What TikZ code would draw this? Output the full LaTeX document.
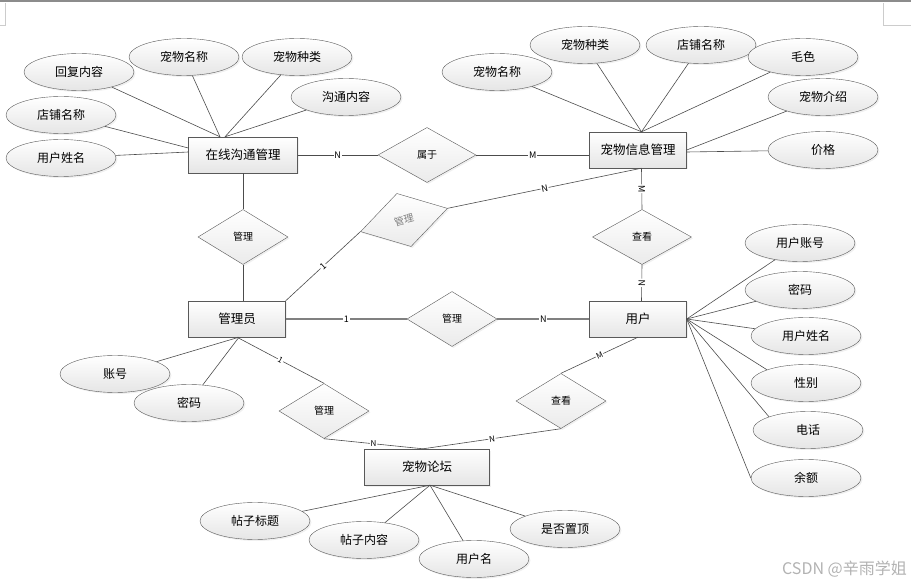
\documentclass[tikz,border=0pt]{standalone}
\usepackage{fontspec}
\setmainfont{Noto Sans CJK SC}
\usetikzlibrary{shapes.geometric,shadows,calc}

\begin{document}
\begin{tikzpicture}[
    x=1pt, y=-1pt,
    entity/.style={rectangle, draw=black!65, top color=white, bottom color=black!10, minimum height=36pt, inner sep=0pt, font=\fontsize{12.5}{14}\selectfont, drop shadow={opacity=0.12, shadow xshift=1.5pt, shadow yshift=-1.5pt}},
    attr/.style={ellipse, draw=black!65, top color=white, bottom color=black!10, minimum width=110pt, minimum height=37pt, inner sep=0pt, font=\fontsize{12}{14}\selectfont, drop shadow={opacity=0.12, shadow xshift=1.5pt, shadow yshift=-1.5pt}},
    rel/.style={diamond, draw=black!65, top color=white, bottom color=black!8, minimum width=90pt, minimum height=55pt, inner sep=0pt, font=\fontsize{10}{12}\selectfont, drop shadow={opacity=0.12, shadow xshift=1.5pt, shadow yshift=-1.5pt}},
    link/.style={draw=black!70, line width=0.6pt},
    card/.style={fill=white, inner sep=0.8pt, font=\fontsize{9}{10}\selectfont},
  ]
    \useasboundingbox (0,0) rectangle (911,585);

    % Page edge
    \draw[black!45, line width=2.5pt] (0,1.2) -- (911,1.2);
    \draw[black!20] (0,25) -- (5,25) -- (5,3);
    \draw[black!20] (911,25) -- (883,25) -- (883,3);

    % Entities
    \node[entity, minimum width=109pt] (chat) at (243,155) {在线沟通管理};
    \node[entity, minimum width=97pt] (petinfo) at (638,150) {宠物信息管理};
    \node[entity, minimum width=97pt] (admin) at (237,319) {管理员};
    \node[entity, minimum width=97pt] (user) at (638,319) {用户};
    \node[entity, minimum width=125pt] (forum) at (427,467) {宠物论坛};

    % Relations
    \node[rel, minimum width=98pt] (belong) at (427,155) {属于};
    \node[rel] (manage1) at (243,237) {管理};
    \node[rel, rotate=15, text=black!50] (manage2) at (404,220) {管理};
    \node[rel] (manage3) at (452,319) {管理};
    \node[rel] (manage4) at (324,411) {管理};
    \node[rel, minimum width=99pt] (view1) at (642,237) {查看};
    \node[rel] (view2) at (561,401) {查看};

    % Attributes of chat
    \node[attr] (c1) at (79,72) {回复内容};
    \node[attr] (c2) at (184,57) {宠物名称};
    \node[attr] (c3) at (297,57) {宠物种类};
    \node[attr] (c4) at (346,97) {沟通内容};
    \node[attr] (c5) at (61,115) {店铺名称};
    \node[attr] (c6) at (61,158) {用户姓名};

    % Attributes of petinfo
    \node[attr] (p1) at (497,72) {宠物名称};
    \node[attr] (p2) at (585,45) {宠物种类};
    \node[attr] (p3) at (701,45) {店铺名称};
    \node[attr] (p4) at (803,57) {毛色};
    \node[attr] (p5) at (823,97) {宠物介绍};
    \node[attr] (p6) at (823,150) {价格};

    % Attributes of user
    \node[attr] (u1) at (800,243) {用户账号};
    \node[attr] (u2) at (800,290) {密码};
    \node[attr] (u3) at (806,336) {用户姓名};
    \node[attr] (u4) at (806,383) {性别};
    \node[attr] (u5) at (808,430) {电话};
    \node[attr] (u6) at (806,478) {余额};

    % Attributes of admin and forum
    \node[attr] (a1) at (115,374) {账号};
    \node[attr] (a2) at (189,403) {密码};
    \node[attr] (f1) at (255,521) {帖子标题};
    \node[attr] (f2) at (364,540) {帖子内容};
    \node[attr] (f3) at (474,559) {用户名};
    \node[attr] (f4) at (565,529) {是否置顶};

    % Meeting points
    \coordinate (chatA) at ($(chat.north)+(-23,0)$);
    \coordinate (chatB) at ($(chat.north)+(-18,0)$);
    \coordinate (chatC) at ($(chat.west)+(0,-7)$);
    \coordinate (chatD) at ($(chat.west)+(0,-3)$);
    \coordinate (infoTop) at ($(petinfo.north)+(3.5,0)$);
    \coordinate (infoBot) at ($(petinfo.south)+(3.5,0)$);
    \coordinate (userTop) at ($(user.north)+(3.5,0)$);
    \coordinate (adminBot) at ($(admin.south)+(2,0)$);
    \coordinate (forumTop) at ($(forum.north)+(-4,0)$);
    \coordinate (forumBot) at ($(forum.south)+(3,0)$);

    % Attribute lines
    \draw[link] (c1) -- (chatA);
    \draw[link] (c2) -- (chatA);
    \draw[link] (c3) -- (chatB);
    \draw[link] (c4) -- (chatB);
    \draw[link] (c5) -- (chatC);
    \draw[link] (c6) -- (chatD);
    \foreach \a in {p1,p2,p3,p4}
      \draw[link] (\a) -- (infoTop);
    \draw[link] (p5) -- (petinfo.east);
    \draw[link] (p6) -- ($(petinfo.east)+(0,2)$);
    \foreach \a in {u1,u2,u3}
      \draw[link] (\a) -- (user.east);
    \draw[link] (u4.north west) -- (user.east);
    \draw[link] (u5.north west) -- (user.east);
    \draw[link] (u6.west) -- (user.east);
    \draw[link] (a1) -- (adminBot);
    \draw[link] (a2) -- (adminBot);
    \foreach \a in {f1,f2,f3,f4}
      \draw[link] (\a) -- (forumBot);

    % Relation lines
    \draw[link] (chat) -- node[card]{N} (belong);
    \draw[link] (belong.east) -- node[card]{M} (belong.east -| petinfo.west);
    \draw[link] (chat) -- (manage1);
    \draw[link] (manage1) -- (manage1 |- admin.north);
    \draw[link] (admin.north east) -- node[card, sloped]{1} (manage2.west);
    \draw[link] (manage2.east) -- node[card, sloped]{N} (infoBot);
    \draw[link, draw=black!50, line width=1.2pt] (admin) -- node[card]{1} (manage3);
    \draw[link, draw=black!50, line width=1.2pt] (manage3) -- node[card]{N} (user);
    \draw[link] (admin.south) -- node[card, sloped, font=\fontsize{8}{9}\selectfont]{1} (manage4.north);
    \draw[link] (manage4.south) -- node[card, font=\fontsize{8}{9}\selectfont]{N} (forumTop);
    \draw[link] (infoBot) -- node[card, sloped]{M} (view1.north);
    \draw[link] (view1.south) -- node[card, sloped]{N} (userTop);
    \draw[link] (user.south) -- node[card, sloped, font=\fontsize{8}{9}\selectfont]{M} (view2.north);
    \draw[link] (view2.south) -- node[card, sloped, font=\fontsize{8}{9}\selectfont]{N} (forumTop);

    % Watermark
    \node[font=\fontsize{16}{18}\selectfont, text=black!30, anchor=east, inner sep=0pt] (mark) at (907,569) {CSDN @辛雨学姐};
  \end{tikzpicture}
\end{document}
